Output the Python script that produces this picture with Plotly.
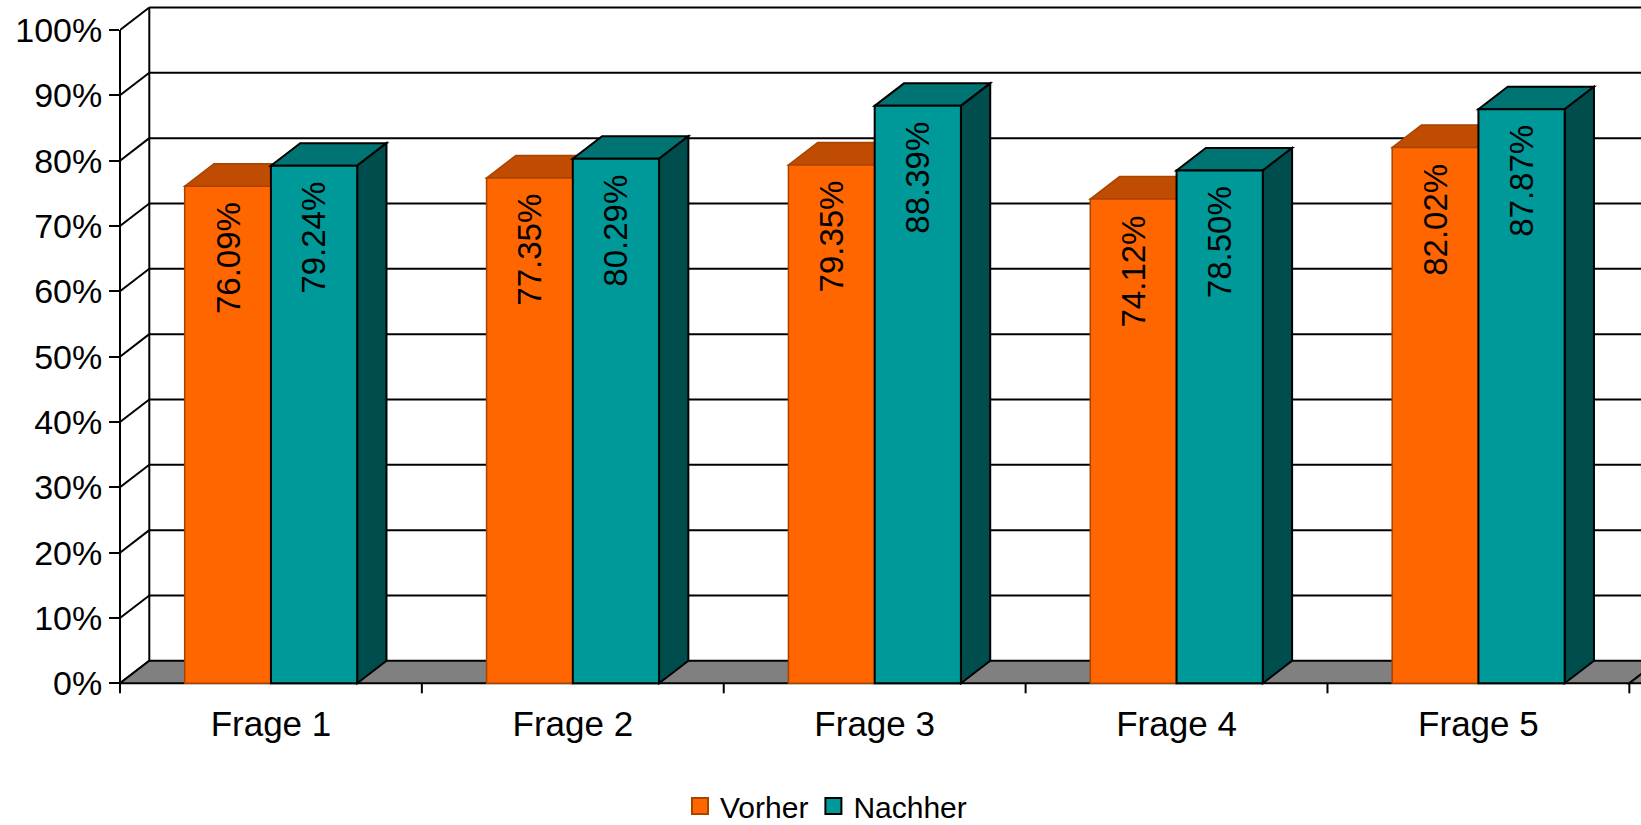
import plotly.graph_objects as go

# ---------------- data ----------------
categories = ["Frage 1", "Frage 2", "Frage 3", "Frage 4", "Frage 5"]
series_names = ["Vorher", "Nachher"]
vorher = [76.09, 77.35, 79.35, 74.12, 82.02]
nachher = [79.24, 80.29, 88.39, 78.50, 87.87]
y_ticks = [0, 10, 20, 30, 40, 50, 60, 70, 80, 90, 100]
y_tick_labels = [f"{t}%" for t in y_ticks]

# ---------------- style / geometry ----------------
FONT = "Arial, 'Liberation Sans', sans-serif"
PX_U = 301.87          # pixels per category
PX_V = 6.533           # pixels per percent
DX = 29.3 / PX_U       # 3-D depth offset (x, in category units)
DY = 22.5 / PX_V       # 3-D depth offset (y, in percent units)
W = 1 / 3.5            # bar width (gap width 150 %)
TICK_V = 10 / PX_V     # x tick length in percent units
X_MAX = (1641 - 120) / PX_U
Y_MIN = -(700 - 683.3) / PX_V
Y_MAX = 683.3 / PX_V

OR_FRONT, OR_TOP, OR_SIDE, OR_LINE = "#FF6600", "#BF4C00", "#A84300", "#A84300"
TE_FRONT, TE_TOP, TE_SIDE, TE_LINE = "#009999", "#007473", "#004D4D", "#000000"
FLOOR = "#808080"
n = len(categories)

shapes = []


def poly(pts, fill, line, lw=2):
    path = "M " + " L ".join(f"{x},{y}" for x, y in pts) + " Z"
    shapes.append(dict(type="path", path=path, xref="x", yref="y", fillcolor=fill,
                       line=dict(color=line, width=lw), layer="below"))


def seg(x0, y0, x1, y1, xref="x"):
    shapes.append(dict(type="line", x0=x0, y0=y0, x1=x1, y1=y1, xref=xref, yref="y",
                       line=dict(color="black", width=2), layer="below"))


# back wall gridlines + slanted lines from the front axis
for t in y_ticks:
    if t > 0:
        seg(DX, t + DY, X_MAX + 1, t + DY)
    seg(0, t, DX, t + DY)
# back wall left edge
seg(DX, DY, DX, y_ticks[-1] + DY)
# floor
poly([(0, 0), (n, 0), (n + DX, DY), (DX, DY)], FLOOR, "black")
poly([(n, 0), (X_MAX + 1, 0), (X_MAX + 1 + DX, DY), (n + DX, DY)], FLOOR, "black")
# front axis line (includes tick at x=0)
seg(0, -TICK_V, 0, y_ticks[-1], xref="paper")
# x ticks
for k in range(1, n + 1):
    seg(k, 0, k, -TICK_V)

# 3-D faces of bars
for i in range(n):
    v1, v2 = vorher[i], nachher[i]
    ox0, ox1 = i + 0.5 - W, i + 0.5
    tx0, tx1 = i + 0.5, i + 0.5 + W
    # orange side + top
    poly([(ox1, 0), (ox1, v1), (ox1 + DX, v1 + DY), (ox1 + DX, DY)], OR_SIDE, OR_LINE, 1.5)
    poly([(ox0, v1), (ox1, v1), (ox1 + DX, v1 + DY), (ox0 + DX, v1 + DY)], OR_TOP, OR_LINE, 1.5)
    # teal top + side
    poly([(tx0, v2), (tx1, v2), (tx1 + DX, v2 + DY), (tx0 + DX, v2 + DY)], TE_TOP, TE_LINE, 2)
    poly([(tx1, 0), (tx1, v2), (tx1 + DX, v2 + DY), (tx1 + DX, DY)], TE_SIDE, TE_LINE, 2)

fig = go.Figure()
x_or = [i + 0.5 - W / 2 for i in range(n)]
x_te = [i + 0.5 + W / 2 for i in range(n)]
fig.add_trace(go.Bar(x=x_or, y=vorher, width=W, name=series_names[0], showlegend=False,
                     marker=dict(color=OR_FRONT, line=dict(color=OR_LINE, width=1.5)),
                     hoverinfo="skip"))
fig.add_trace(go.Bar(x=x_te, y=nachher, width=W, name=series_names[1], showlegend=False,
                     marker=dict(color=TE_FRONT, line=dict(color=TE_LINE, width=2)),
                     hoverinfo="skip"))
# legend entries
fig.add_trace(go.Scatter(x=[None], y=[None], mode="markers", name=series_names[0],
                         marker=dict(symbol="square", size=16, color=OR_FRONT,
                                     line=dict(color=OR_LINE, width=2))))
fig.add_trace(go.Scatter(x=[None], y=[None], mode="markers", name=series_names[1],
                         marker=dict(symbol="square", size=16, color=TE_FRONT,
                                     line=dict(color=TE_LINE, width=2))))

annotations = []
for xs, vals in ((x_or, vorher), (x_te, nachher)):
    for x, v in zip(xs, vals):
        annotations.append(dict(x=x, y=v, xref="x", yref="y", text=f"{v:.2f}%",
                                textangle=-90, showarrow=False, yanchor="top",
                                xanchor="center", yshift=-14,
                                font=dict(family=FONT, size=33, color="black")))

fig.update_layout(
    width=1641, height=825,
    margin=dict(l=120, r=0, t=0, b=125, pad=0, autoexpand=False),
    paper_bgcolor="white", plot_bgcolor="white",
    barmode="overlay",
    shapes=shapes, annotations=annotations,
    font=dict(family=FONT, color="black"),
    showlegend=True,
    legend=dict(orientation="h", xref="container", yref="container",
                x=826 / 1641, xanchor="center", y=(825 - 806) / 825, yanchor="middle",
                font=dict(family=FONT, size=30, color="black"), bgcolor="rgba(0,0,0,0)",
                itemclick=False, itemdoubleclick=False),
    xaxis=dict(range=[0, X_MAX], tickvals=[i + 0.5 for i in range(n)], ticktext=categories,
               showgrid=False, zeroline=False, showline=False, ticks="",
               tickfont=dict(family=FONT, size=35, color="black"), fixedrange=True),
    yaxis=dict(range=[Y_MIN, Y_MAX], tickvals=y_ticks, ticktext=y_tick_labels,
               showgrid=False, zeroline=False, showline=False, ticks="outside",
               ticklen=10, tickwidth=2, tickcolor="black",
               tickfont=dict(family=FONT, size=34, color="black"), fixedrange=True),
)

fig.write_html("out.html", config={"displayModeBar": False})
